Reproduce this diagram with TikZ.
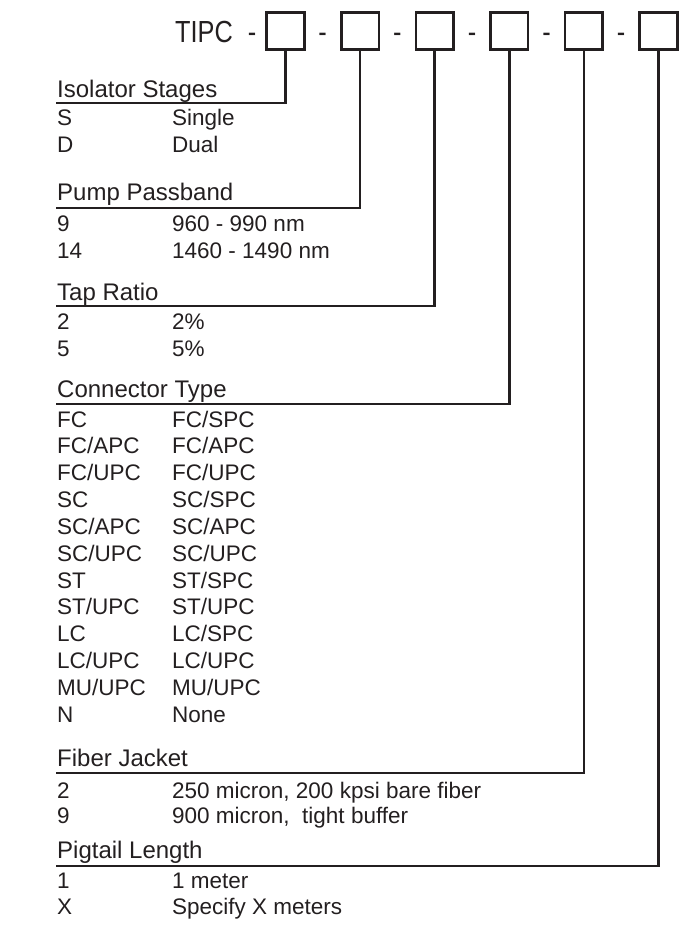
\documentclass[tikz,border=0pt]{standalone}
\usepackage{fontspec}
\setmainfont{Liberation Sans}
\newfontfamily\tipcfont[FakeStretch=0.83]{Liberation Sans}
\definecolor{ink}{HTML}{231F20}
\begin{document}
\begin{tikzpicture}[x=1pt,y=-1pt,
  txt/.style={anchor=base west, inner sep=0pt, text=ink, font=\fontsize{22.5}{22.5}\selectfont},
  head/.style={txt, font=\fontsize{24}{24}\selectfont},
  big/.style={anchor=base, inner sep=0pt, text=ink, font=\tipcfont\fontsize{30.5}{30.5}\selectfont},
  codebox/.style={draw=ink, line width=2.6pt, minimum size=37.5pt, inner sep=0pt},
  wire/.style={draw=ink, line width=2.6pt}]
\useasboundingbox (0,0) rectangle (690,926);
% title row
\node[big, anchor=base west] (tipc) at (175,42.5) {TIPC};
\node[big] (d1) at (252,42.5) {-};
\node[codebox] (b1) at (285.5,31) {};
\node[big] (d2) at (322.5,42.5) {-};
\node[codebox] (b2) at (360.1,31) {};
\node[big] (d3) at (397.4,42.5) {-};
\node[codebox] (b3) at (434.7,31) {};
\node[big] (d4) at (472,42.5) {-};
\node[codebox] (b4) at (509.3,31) {};
\node[big] (d5) at (546.6,42.5) {-};
\node[codebox] (b5) at (583.9,31) {};
\node[big] (d6) at (621.2,42.5) {-};
\node[codebox] (b6) at (658.5,31) {};
% Isolator Stages
\node[head] (h1) at (57,97) {Isolator Stages};
\coordinate (l1) at (56,103);
\draw[wire] (b1.south) |- (l1);
\node[txt] (e1a) at (57,125) {S};   \node[txt] (e1b) at (172,125) {Single};
\node[txt] (e2a) at (57,152) {D};   \node[txt] (e2b) at (172,152) {Dual};
% Pump Passband
\node[head] (h2) at (57,200) {Pump Passband};
\coordinate (l2) at (56,208);
\draw[wire] (b2.south) |- (l2);
\node[txt] (p1a) at (57,231) {9};   \node[txt] (p1b) at (172,231) {960 - 990 nm};
\node[txt] (p2a) at (57,258) {14};  \node[txt] (p2b) at (172,258) {1460 - 1490 nm};
% Tap Ratio
\node[head] (h3) at (57,300) {Tap Ratio};
\coordinate (l3) at (56,306);
\draw[wire] (b3.south) |- (l3);
\node[txt] (t1a) at (57,329) {2};   \node[txt] (t1b) at (172,329) {2\%};
\node[txt] (t2a) at (57,356) {5};   \node[txt] (t2b) at (172,356) {5\%};
% Connector Type
\node[head] (h4) at (57,397) {Connector Type};
\coordinate (l4) at (56,404);
\draw[wire] (b4.south) |- (l4);
\foreach \n/\a/\b in {0/FC/FC\slash SPC, 1/FC\slash APC/FC\slash APC, 2/FC\slash UPC/FC\slash UPC,
  3/SC/SC\slash SPC, 4/SC\slash APC/SC\slash APC, 5/SC\slash UPC/SC\slash UPC,
  6/ST/ST\slash SPC, 7/ST\slash UPC/ST\slash UPC, 8/LC/LC\slash SPC, 9/LC\slash UPC/LC\slash UPC,
  10/MU\slash UPC/MU\slash UPC, 11/N/None} {
  \node[txt] (c\n a) at (57,427+26.85*\n) {\a};
  \node[txt] (c\n b) at (172,427+26.85*\n) {\b};
}
% Fiber Jacket
\node[head] (h5) at (57,766) {Fiber Jacket};
\coordinate (l5) at (56,773);
\draw[wire] (b5.south) |- (l5);
\node[txt] (f1a) at (57,798) {2};   \node[txt] (f1b) at (172,798) {250 micron, 200 kpsi bare fiber};
\node[txt] (f2a) at (57,823) {9};   \node[txt] (f2b) at (172,823) {900 micron, \ tight buffer};
% Pigtail Length
\node[head] (h6) at (57,858) {Pigtail Length};
\coordinate (l6) at (56,866);
\draw[wire] (b6.south) |- (l6);
\node[txt] (g1a) at (57,888) {1};   \node[txt] (g1b) at (172,888) {1 meter};
\node[txt] (g2a) at (57,914) {X};   \node[txt] (g2b) at (172,914) {Specify X meters};
\end{tikzpicture}
\end{document}
